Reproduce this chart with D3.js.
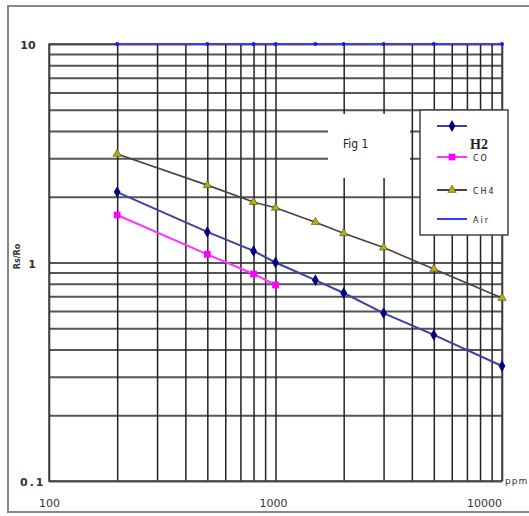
<!DOCTYPE html>
<html>
<head>
<meta charset="utf-8">
<script src="https://cdn.jsdelivr.net/npm/d3@7"></script>
<style>
  body { margin: 0; background: #fff; }
  svg { display: block; font-family: "DejaVu Sans", sans-serif; }
</style>
</head>
<body>
<div id="chart"></div>
<script>
/* Rs/Ro vs ppm, log-log sensor chart */

const width = 529,
    height = 516,
    margin = ({ top: 44, right: 27, bottom: 35, left: 49 });

// data
const h2Ppm = [200, 500, 800, 1000, 1500, 2000, 3000, 5000, 10000];
const h2Val = [2.10, 1.38, 1.13, 1.0, 0.83, 0.725, 0.587, 0.466, 0.336];
const coPpm = [200, 500, 800, 1000];
const coVal = [1.65, 1.09, 0.886, 0.789];
const ch4Ppm = [200, 500, 800, 1000, 1500, 2000, 3000, 5000, 10000];
const ch4Val = [3.14, 2.26, 1.89, 1.78, 1.53, 1.36, 1.17, 0.934, 0.688];
const airPpm = [200, 500, 800, 1000, 1500, 2000, 3000, 5000, 10000];
const airVal = [10, 10, 10, 10, 10, 10, 10, 10, 10];
const xTickLabels = ["100", "1000", "10000"];
const yTickLabels = ["0.1", "1", "10"];

const svg = d3.select("#chart")
    .append("svg")
    .attr("width", width)
    .attr("height", height);

let x = d3.scaleLog()
    .domain([100, 10000])
    .range([margin.left, width - margin.right]);

let y = d3.scaleLog()
    .domain([0.1, 10])
    .range([height - margin.bottom, margin.top]);

// outer frame
svg.append("rect")
    .attr("x", 8).attr("y", 6)
    .attr("width", width + 10).attr("height", 506)
    .attr("fill", "none")
    .attr("stroke", "#888")
    .attr("stroke-width", 2);

// horizontal grid
svg.append("g")
    .attr("transform", `translate(${margin.left},0)`)
    .call(d3.axisLeft(y).tickSize(-(x.range()[1] - margin.left)).tickFormat(""))
    .call(g => g.select(".domain").remove())
    .call(g => g.selectAll("line").attr("stroke", "#555").attr("stroke-width", 2));

// vertical grid
svg.append("g")
    .attr("transform", `translate(0,${height - margin.bottom})`)
    .call(d3.axisBottom(x).tickSize(-(height - margin.bottom - margin.top)).tickFormat(""))
    .call(g => g.select(".domain").remove())
    .call(g => g.selectAll("line").attr("stroke", "#222").attr("stroke-width", 1.5));

// plot edges
svg.append("rect")
    .attr("x", margin.left).attr("y", margin.top)
    .attr("width", x.range()[1] - margin.left)
    .attr("height", height - margin.bottom - margin.top)
    .attr("fill", "none")
    .attr("stroke", "#444")
    .attr("stroke-width", 1.5);

// "Fig 1" box hides the grid under it
svg.append("rect")
    .attr("x", 328).attr("y", 114)
    .attr("width", 82).attr("height", 64)
    .attr("fill", "#fff");
svg.append("text")
    .attr("x", 343).attr("y", 148)
    .attr("font-family", "'Liberation Sans Narrow', 'DejaVu Sans Condensed', sans-serif")
    .attr("font-size", 12)
    .attr("fill", "#222")
    .text("Fig 1");

// axis labels
svg.selectAll(".ylab")
    .data(yTickLabels)
    .join("text")
    .attr("class", "ylab")
    .attr("x", (d, i) => [20, 32, 28][i])
    .attr("y", d => y(+d) + 5)
    .attr("text-anchor", (d, i) => i == 0 ? "start" : "middle")
    .attr("font-size", 11)
    .attr("font-weight", "bold")
    .attr("fill", "#333")
    .attr("letter-spacing", (d, i) => i == 0 ? "2px" : "0px")
    .text(d => d);

svg.selectAll(".xlab")
    .data(xTickLabels)
    .join("text")
    .attr("class", "xlab")
    .attr("x", d => x(+d))
    .attr("y", 507)
    .attr("text-anchor", (d, i) => ["start", "middle", "end"][i])
    .attr("dx", (d, i) => [-10, -2, 0][i])
    .attr("font-size", 11)
    .attr("fill", "#333")
    .text(d => d);

svg.append("text")
    .attr("x", 505)
    .attr("y", 484)
    .attr("font-size", 9)
    .attr("fill", "#333")
    .attr("letter-spacing", "1px")
    .text("ppm");

svg.append("text")
    .attr("transform", `translate(20,${y(1) - 6}) rotate(-90)`)
    .attr("text-anchor", "middle")
    .attr("font-size", 8)
    .attr("font-weight", "bold")
    .attr("fill", "#333")
    .text("Rs/Ro");

// series
let line = d3.line()
    .x(d => x(d[0]))
    .y(d => y(d[1]));

const series = [
  { ppm: airPpm, val: airVal, color: "#3a3aff", width: 2, marker: "circle", mfill: "#1a1aee", size: 12 },
  { ppm: ch4Ppm, val: ch4Val, color: "#444", width: 1.6, marker: "triangle", mfill: "#b5b000", size: 30 },
  { ppm: h2Ppm, val: h2Val, color: "#4040a0", width: 2, marker: "diamond", mfill: "#000080", size: 40 },
  { ppm: coPpm, val: coVal, color: "#ff33ff", width: 2, marker: "square", mfill: "#ff00ff", size: 45 }
];

const symbols = {
  circle: d3.symbolCircle,
  triangle: d3.symbolTriangle,
  diamond: d3.symbolDiamond,
  square: d3.symbolSquare
};

for (let s of series) {
  let pts = d3.zip(s.ppm, s.val);
  svg.append("path")
      .datum(pts)
      .attr("d", line)
      .attr("fill", "none")
      .attr("stroke", s.color)
      .attr("stroke-width", s.width);
  svg.append("g")
    .selectAll("path")
    .data(pts)
    .join("path")
      .attr("transform", d => `translate(${x(d[0])},${y(d[1])})`)
      .attr("d", d3.symbol(symbols[s.marker], s.size))
      .attr("fill", s.mfill)
      .attr("stroke", s.marker == "triangle" ? "#444" : "none")
      .attr("stroke-width", 0.6);
}

// legend
const legend = svg.append("g");
legend.append("rect")
    .attr("x", 420).attr("y", 110)
    .attr("width", 88).attr("height", 125)
    .attr("fill", "#fff")
    .attr("stroke", "#444")
    .attr("stroke-width", 1.5);

const legendItems = [
  { s: series[2], ly: 126, label: "H2", tx: 470, ty: 149 },
  { s: series[3], ly: 157, label: "CO", tx: 473, ty: 161 },
  { s: series[1], ly: 190, label: "CH4", tx: 473, ty: 194 },
  { s: series[0], ly: 219, label: "Air", tx: 473, ty: 223 }
];

for (let it of legendItems) {
  legend.append("line")
      .attr("x1", 437).attr("x2", 467)
      .attr("y1", it.ly).attr("y2", it.ly)
      .attr("stroke", it.s.color)
      .attr("stroke-width", 2);
  if (it.label != "Air") {
    legend.append("path")
        .attr("transform", `translate(452,${it.ly})`)
        .attr("d", d3.symbol(symbols[it.s.marker], it.s.size))
        .attr("fill", it.s.mfill)
        .attr("stroke", it.s.marker == "triangle" ? "#444" : "none")
        .attr("stroke-width", 0.6);
  }
  legend.append("text")
      .attr("x", it.tx).attr("y", it.ty)
      .attr("font-family", it.label == "H2" ? "'Liberation Serif', serif" : "'DejaVu Sans', sans-serif")
      .attr("font-weight", it.label == "H2" ? "bold" : "normal")
      .attr("font-size", it.label == "H2" ? 14 : 8)
      .attr("letter-spacing", it.label == "H2" ? "0px" : "2px")
      .attr("fill", "#222")
      .text(it.label);
}
</script>
</body>
</html>
